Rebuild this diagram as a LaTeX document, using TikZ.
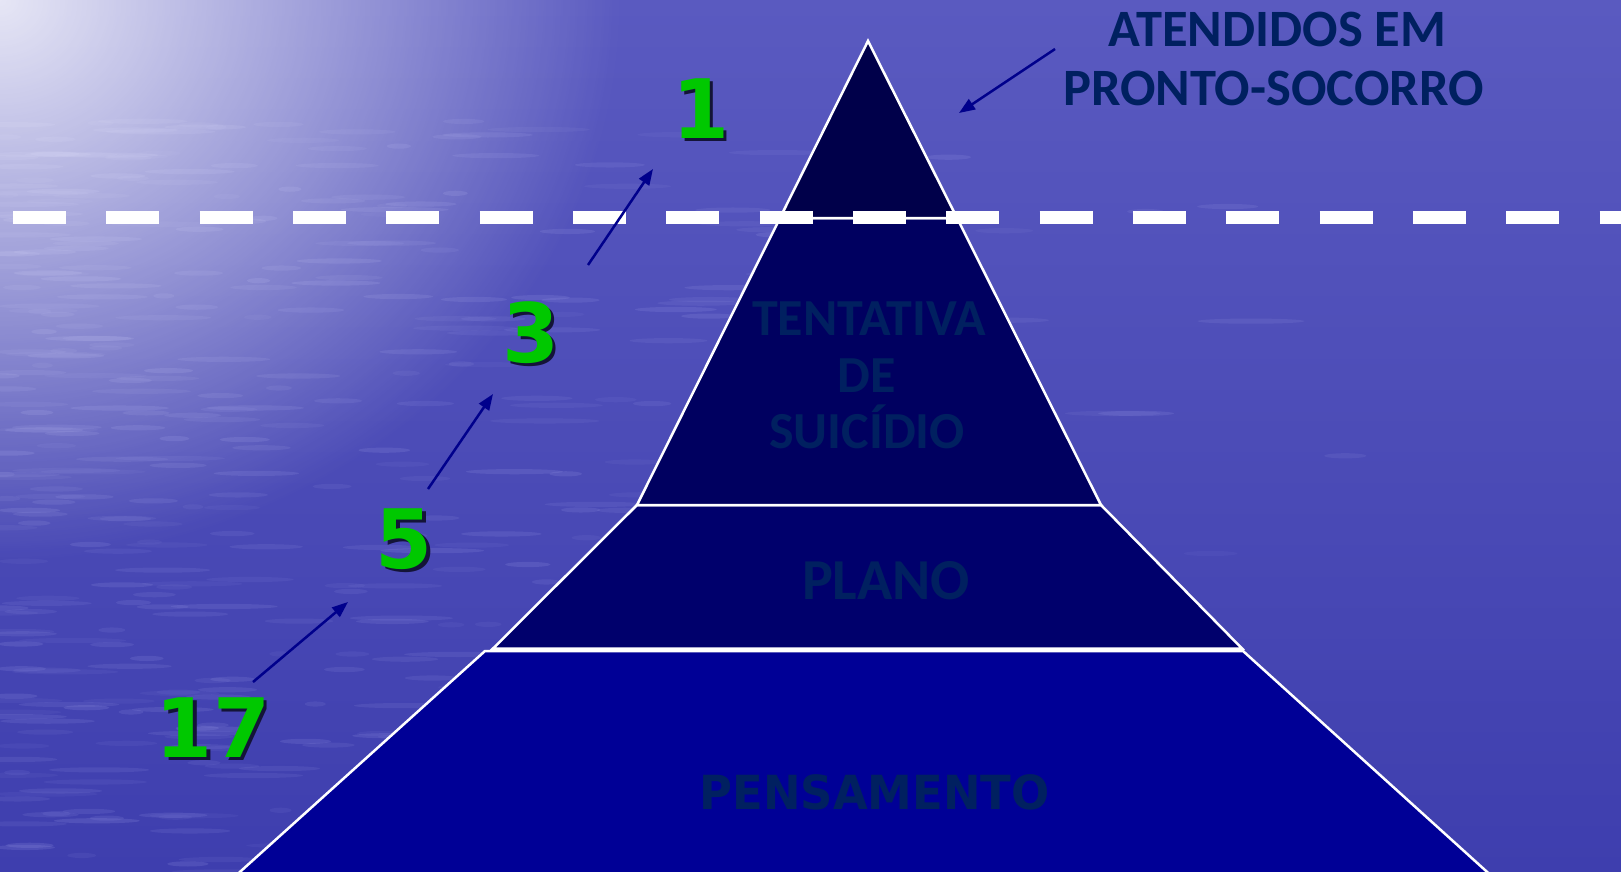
\documentclass[tikz,border=0pt]{standalone}
\usepackage{fontspec}
\usepackage{graphicx}
\usetikzlibrary{arrows.meta,fadings}
\newfontfamily\carlfont{Carlito}
\newfontfamily\dvfont{DejaVu Sans}
\definecolor{bgtop}{HTML}{5A5AC0}
\definecolor{bgbot}{HTML}{3E3EAE}
\definecolor{streak}{HTML}{9090E0}
\definecolor{tierA}{HTML}{00004A}
\definecolor{tierB}{HTML}{000060}
\definecolor{tierC}{HTML}{00006C}
\definecolor{tierD}{HTML}{000096}
\definecolor{lbl}{HTML}{002060}
\definecolor{numgreen}{HTML}{00C800}
\definecolor{numshade}{HTML}{141438}
\definecolor{arrowblue}{HTML}{00008C}
\tikzfading[name=glow, inner color=transparent!0, outer color=transparent!100]
\newcommand\shadednum[1]{\makebox[0pt][l]{\hspace{3.5pt}\raisebox{-3.5pt}{\textcolor{numshade}{#1}}}#1}
\begin{document}
\begin{tikzpicture}[x=1pt,y=-1pt,
  tier/.style={draw=white, line width=2.5pt, line join=miter},
  toptext/.style={anchor=base, text=lbl, font=\carlfont\bfseries\fontsize{52.5}{60}\selectfont},
  tiertext/.style={anchor=base, text=lbl, font=\carlfont\bfseries\fontsize{52}{60}\selectfont},
  num/.style={anchor=base, text=numgreen, font=\dvfont\bfseries\fontsize{82}{90}\selectfont},
  pointer/.style={draw=arrowblue, line width=2.5pt, -{Triangle[length=16pt,width=12pt]}}
]
\useasboundingbox (0,0) rectangle (1621,872);
\begin{scope}
\clip (0,0) rectangle (1621,872);
% background: water
\shade[top color=bgtop, bottom color=bgbot] (0,0) rectangle (1621,872);
\pgfmathsetseed{11}
\foreach \i in {1,...,420}{
  \pgfmathsetmacro\stx{rnd*rnd*1400}
  \pgfmathsetmacro\sty{120+rnd*760}
  \pgfmathsetmacro\stlen{10+rnd*45}
  \pgfmathsetmacro\stop{0.08+0.14*rnd}
  \fill[streak, opacity=\stop] (\stx,\sty) ellipse [x radius=\stlen pt, y radius=2.6pt];
}
\fill[white, path fading=glow, fill opacity=0.85] (0,0) ellipse [x radius=620pt, y radius=560pt];
% pyramid tiers
\coordinate (apex) at (868,41);
\filldraw[tier, fill=tierD] (485,651) -- (1243,651) -- (1496,880) -- (231,880) -- cycle;
\filldraw[tier, fill=tierC] (637,505) -- (1101,505) -- (1242,648.5) -- (493,648.5) -- cycle;
\filldraw[tier, fill=tierB] (780,218) -- (957,218) -- (1101,505) -- (637,505) -- cycle;
\filldraw[tier, fill=tierA] (apex) -- (957,218) -- (780,218) -- cycle;
% dashed water line
\draw[white, line width=13pt, dash pattern=on 53pt off 40.33pt] (13,217.5) -- (1640,217.5);
\end{scope}
% labels inside the pyramid
\node[tiertext] (tent1) at (869,335) {TENTATIVA};
\node[tiertext] (tent2) at (867,392) {DE};
\node[tiertext] (tent3) at (867,448) {SUICÍDIO};
\node[anchor=base, text=lbl, font=\carlfont\bfseries\fontsize{58}{60}\selectfont] (plano) at (886,599) {PLANO};
\node[anchor=base, text=lbl, font=\dvfont\bfseries\fontsize{47}{56}\selectfont] (pens) at (874.5,809) {\scalebox{0.955}[1]{PENSAMENTO}};
% top label
\node[toptext] (atend1) at (1277.5,47) {ATENDIDOS EM};
\node[toptext] (atend2) at (1273.5,105.5) {PRONTO-SOCORRO};
% numbers
\node[num] (n1) at (701,138.5) {\shadednum{1}};
\node[num] (n3) at (531,362) {\shadednum{3}};
\node[num] (n5) at (404.5,568) {\shadednum{5}};
\node[num] (n17) at (213,757) {\shadednum{17}};
% pointers
\coordinate (p1s) at (253,682);
\coordinate (p1e) at (348,602);
\coordinate (p2s) at (428,489);
\coordinate (p2e) at (493,394);
\coordinate (p3s) at (588,265);
\coordinate (p3e) at (653,169);
\coordinate (p4s) at (1055,49);
\coordinate (p4e) at (959,113);
\draw[pointer] (p1s) -- (p1e);
\draw[pointer] (p2s) -- (p2e);
\draw[pointer] (p3s) -- (p3e);
\draw[pointer] (p4s) -- (p4e);
\end{tikzpicture}
\end{document}
